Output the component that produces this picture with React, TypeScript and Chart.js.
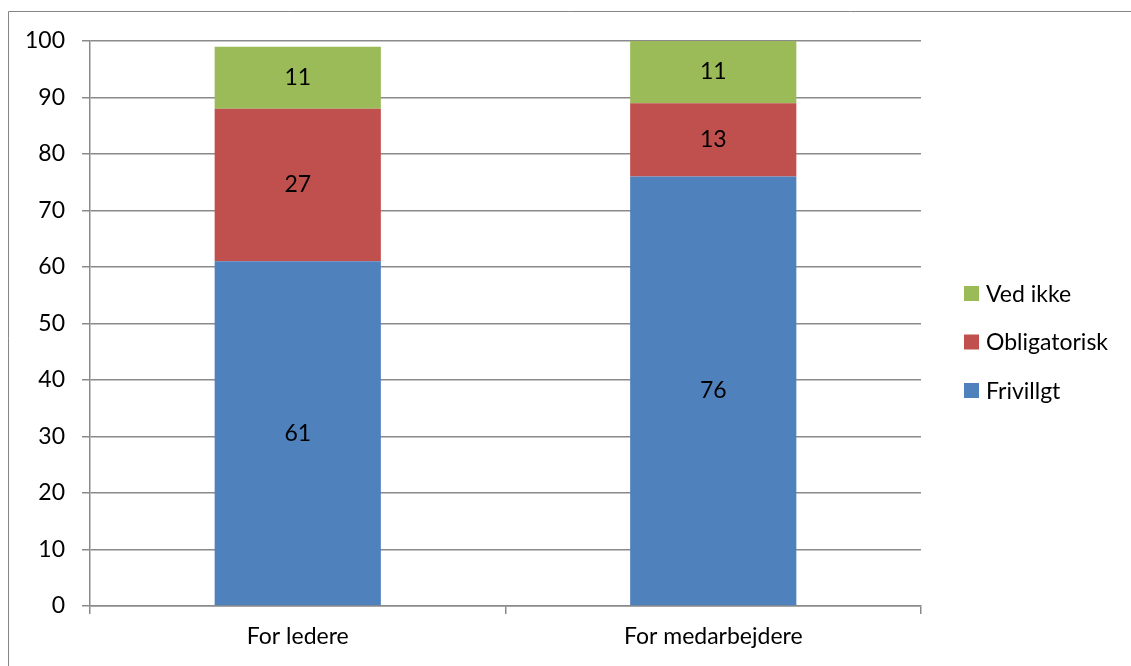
import React, { useEffect, useRef } from "react";
import { Chart, registerables } from "chart.js";

Chart.register(...registerables);

const categories = ["For ledere", "For medarbejdere"];
const frivillgt = [61, 76];
const obligatorisk = [27, 13];
const vedIkke = [11, 11];
const seriesNames = ["Frivillgt", "Obligatorisk", "Ved ikke"];
const seriesColors = ["#4F81BD", "#C0504D", "#9BBB59"];
const yTicks = [0, 10, 20, 30, 40, 50, 60, 70, 80, 90, 100];

const FONT = "Lato, 'Open Sans', sans-serif";
const FONT_SIZE = 23;

const frame = {
  id: "frame",
  afterDraw(chart: any) {
    const { ctx, chartArea } = chart;
    ctx.save();
    // outer border (left and top edges)
    ctx.strokeStyle = "#868686";
    ctx.lineWidth = 1;
    ctx.beginPath();
    ctx.moveTo(8.5, chart.height);
    ctx.lineTo(8.5, 11.5);
    ctx.lineTo(chart.width, 11.5);
    ctx.stroke();

    // value labels in the middle of each segment
    ctx.font = `${FONT_SIZE}px ${FONT}`;
    ctx.fillStyle = "#000";
    ctx.textAlign = "center";
    ctx.textBaseline = "middle";
    chart.data.datasets.forEach((ds: any, i: number) => {
      const meta = chart.getDatasetMeta(i);
      meta.data.forEach((bar: any, j: number) => {
        const yc = (bar.y + bar.base) / 2;
        ctx.fillText(String(ds.data[j]), bar.x, yc);
      });
    });

    // legend, last series on top
    const lx = chartArea.right + 43;
    const midY = 342;
    const gap = 48.5;
    const n = chart.data.datasets.length;
    ctx.textAlign = "left";
    for (let k = 0; k < n; k++) {
      const idx = n - 1 - k;
      const ds = chart.data.datasets[idx];
      const cy = midY + (k - (n - 1) / 2) * gap;
      ctx.fillStyle = ds.backgroundColor;
      ctx.fillRect(lx, cy - 7.5, 15, 15);
      ctx.fillStyle = "#000";
      ctx.fillText(ds.label, lx + 22, cy + 1);
    }
    ctx.restore();
  },
};

export default function App() {
  const ref = useRef<HTMLCanvasElement | null>(null);

  useEffect(() => {
    document.body.style.margin = "0";
    const canvas = ref.current!;
    const chart = new Chart(canvas, {
      type: "bar",
      data: {
        labels: categories,
        datasets: [frivillgt, obligatorisk, vedIkke].map((d, i) => ({
          label: seriesNames[i],
          data: d,
          backgroundColor: seriesColors[i],
          borderWidth: 0,
          categoryPercentage: 1,
          barPercentage: 0.4,
        })),
      },
      options: {
        responsive: false,
        animation: false,
        devicePixelRatio: 1,
        layout: { padding: { top: 41, right: 210, left: 0, bottom: 0 } },
        plugins: {
          legend: { display: false },
          tooltip: { enabled: false },
        },
        scales: {
          x: {
            stacked: true,
            afterFit: (s: any) => {
              s.height = 60;
            },
            grid: {
              offset: true,
              drawOnChartArea: false,
              drawTicks: true,
              tickLength: 8,
              color: "#8a8a8a",
              lineWidth: 1.5,
            },
            border: { color: "#8a8a8a", width: 1.5 },
            ticks: {
              color: "#000",
              font: { family: FONT, size: FONT_SIZE },
              padding: 9,
            },
          },
          y: {
            stacked: true,
            min: 0,
            max: 100,
            afterFit: (s: any) => {
              s.width = 90;
            },
            afterBuildTicks: (s: any) => {
              s.ticks = yTicks.map((v) => ({ value: v }));
            },
            grid: {
              color: "#8a8a8a",
              lineWidth: 1.5,
              drawTicks: true,
              tickLength: 8,
            },
            border: { color: "#8a8a8a", width: 1.5 },
            ticks: {
              color: "#000",
              font: { family: FONT, size: FONT_SIZE },
              padding: 17,
            },
          },
        },
      },
      plugins: [frame],
    });
    return () => chart.destroy();
  }, []);

  return <canvas ref={ref} width={1131} height={666} style={{ display: "block" }} />;
}
